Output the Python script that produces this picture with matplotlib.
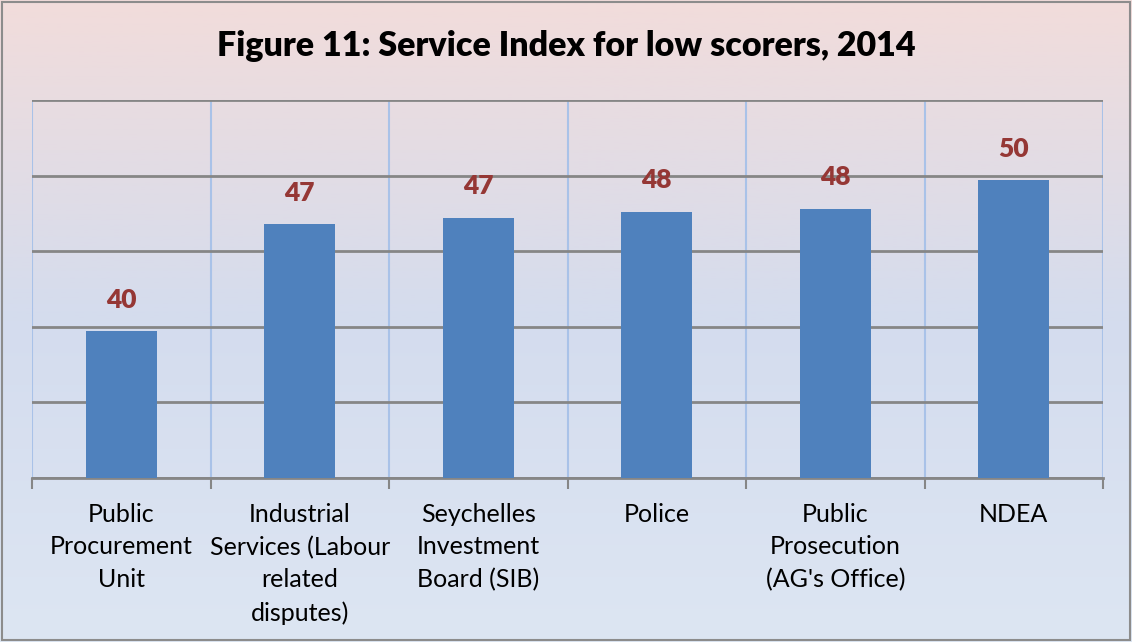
import numpy as np
import matplotlib.pyplot as plt
from matplotlib.colors import LinearSegmentedColormap
from matplotlib.patches import Rectangle

categories = ["Public\nProcurement\nUnit", "Industrial\nServices (Labour\nrelated\ndisputes)",
              "Seychelles\nInvestment\nBoard (SIB)", "Police", "Public\nProsecution\n(AG's Office)", "NDEA"]
scores = [39.7, 46.8, 47.2, 47.6, 47.8, 49.7]
y_ticks = [30, 35, 40, 45, 50, 55]

plt.rcParams["font.family"] = ["Lato", "DejaVu Sans"]

fig = plt.figure(figsize=(11.32, 6.42), dpi=100)

# gradient background
bg = fig.add_axes([0, 0, 1, 1], zorder=-10)
cmap = LinearSegmentedColormap.from_list("bg", ["#f2dcdb", "#d4dcee", "#dde6f3"])
bg.imshow(np.linspace(0, 1, 256).reshape(-1, 1), aspect="auto", cmap=cmap, extent=[0, 1, 0, 1])
bg.set_axis_off()
fig.patches.append(Rectangle((0.002, 0.003), 0.996, 0.994, transform=fig.transFigure,
                             fill=False, edgecolor="#8c8c8c", lw=1.5))

ax = fig.add_axes([0.0283, 0.2555, 0.9461, 0.5887])
ax.patch.set_alpha(0)
x = np.arange(len(categories))
bars = ax.bar(x, scores, width=0.4, color="#4f81bd", zorder=3)
ax.bar_label(bars, labels=[f"{v:.0f}" for v in scores], padding=14,
             color="#953735", fontsize=19, fontweight="heavy")

ax.set_ylim(y_ticks[0], y_ticks[-1])
ax.set_xlim(-0.5, len(categories) - 0.5)
ax.set_yticks(y_ticks)
ax.yaxis.grid(True, color="#868686", lw=2, zorder=1)
ax.tick_params(axis="y", left=False, labelleft=False)
for b in np.arange(-0.5, len(categories), 1.0):
    ax.axvline(b, color="#a9c2e8", lw=1.5, zorder=1)

ax.set_xticks(x)
ax.set_xticklabels(categories, fontsize=18, linespacing=1.5, va="top")
ax.set_xticks(np.arange(-0.5, len(categories), 1.0), minor=True)
ax.tick_params(axis="x", which="major", length=0, pad=18)
ax.tick_params(axis="x", which="minor", length=8, width=1.5, color="#868686")
for s in ["top", "right", "left"]:
    ax.spines[s].set_visible(False)
ax.spines["bottom"].set_color("#868686")
ax.spines["bottom"].set_linewidth(2)

fig.text(0.5, 0.928, "Figure 11: Service Index for low scorers, 2014", ha="center", va="center",
         fontsize=24.5, fontweight="heavy")

fig.savefig("out.png", dpi=100)
